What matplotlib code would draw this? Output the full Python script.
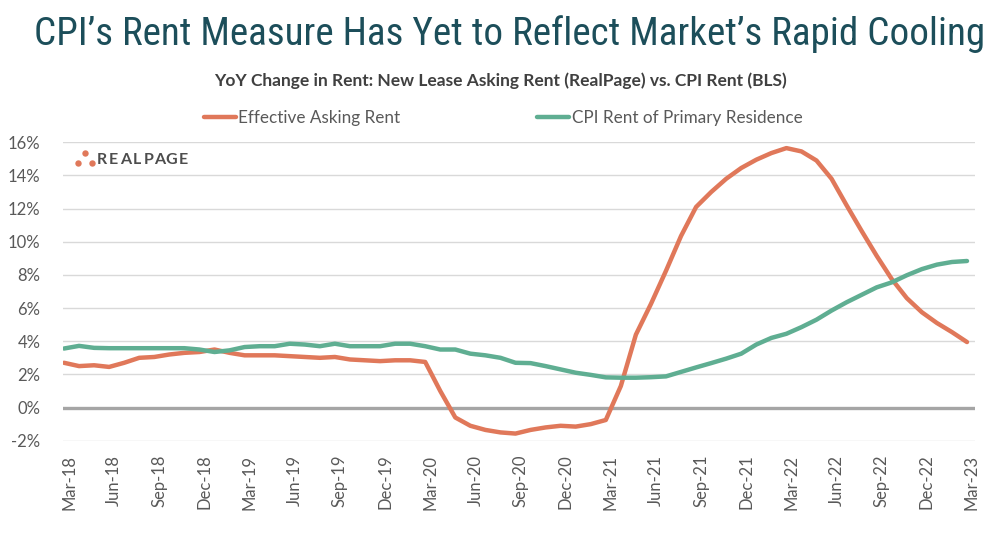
import matplotlib
matplotlib.use("Agg")
import matplotlib.pyplot as plt
from matplotlib import font_manager
from matplotlib.lines import Line2D
import matplotlib.transforms as mtransforms

# ---------------- data ----------------
months_index = list(range(61))  # Mar-18 ... Mar-23, monthly

tick_positions = list(range(0, 61, 3))
tick_labels = ["Mar-18", "Jun-18", "Sep-18", "Dec-18",
               "Mar-19", "Jun-19", "Sep-19", "Dec-19",
               "Mar-20", "Jun-20", "Sep-20", "Dec-20",
               "Mar-21", "Jun-21", "Sep-21", "Dec-21",
               "Mar-22", "Jun-22", "Sep-22", "Dec-22", "Mar-23"]

effective_asking_rent = [
    2.70, 2.50, 2.55, 2.45, 2.70, 3.00, 3.05, 3.20, 3.30, 3.35,
    3.50, 3.30, 3.15, 3.15, 3.15, 3.10, 3.05, 3.00, 3.05, 2.90,
    2.85, 2.80, 2.85, 2.85, 2.75, 1.00, -0.60, -1.10, -1.35, -1.50,
    -1.57, -1.35, -1.20, -1.10, -1.15, -1.00, -0.75, 1.30, 4.40, 6.25,
    8.25, 10.35, 12.10, 13.00, 13.80, 14.45, 14.95, 15.35, 15.65, 15.45,
    14.90, 13.80, 12.20, 10.65, 9.15, 7.75, 6.60, 5.75, 5.10, 4.55,
    3.95]

cpi_rent_primary = [
    3.56, 3.72, 3.60, 3.58, 3.58, 3.58, 3.58, 3.58, 3.58, 3.50,
    3.35, 3.45, 3.65, 3.70, 3.70, 3.85, 3.80, 3.70, 3.85, 3.70,
    3.70, 3.70, 3.85, 3.85, 3.70, 3.50, 3.50, 3.25, 3.15, 3.00,
    2.70, 2.68, 2.50, 2.30, 2.10, 1.97, 1.82, 1.80, 1.80, 1.83,
    1.88, 2.15, 2.42, 2.68, 2.95, 3.25, 3.80, 4.20, 4.45, 4.85,
    5.30, 5.85, 6.35, 6.80, 7.25, 7.55, 7.98, 8.35, 8.62, 8.78,
    8.84]

series_names = ["Effective Asking Rent", "CPI Rent of Primary Residence"]
y_ticks = list(range(-2, 17, 2))

# ---------------- style ----------------
W, H, DPI = 1005, 533, 100
ORANGE = "#E0785A"
GREEN = "#5FAE92"
TITLE_COLOR = "#1C4E5A"
TEXT_GRAY = "#595959"
GRID = "#D9D9D9"

avail = {f.name for f in font_manager.fontManager.ttflist}
def pick(*names):
    for n in names:
        if n in avail:
            return n
    return "DejaVu Sans"

BASE = pick("Lato", "Open Sans", "Noto Sans", "DejaVu Sans")
TITLE_FONT = pick("Liberation Sans Narrow", "Roboto Condensed", "Open Sans Condensed", "Lato")
plt.rcParams["font.family"] = [BASE, "DejaVu Sans"]

fig = plt.figure(figsize=(W / DPI, H / DPI), dpi=DPI)
fig.patch.set_facecolor("white")

def fx(px):
    return px / W

def fy(py):
    return 1 - py / H

# plot area in pixels
left_px, right_px, top_px, bot_px = 62.7, 975.0, 142.3, 440.7
ax = fig.add_axes([fx(left_px), fy(bot_px), fx(right_px - left_px), (bot_px - top_px) / H])

x0_px, step_px = 64.0, 15.05
ax.set_xlim((left_px - x0_px) / step_px, (right_px - x0_px) / step_px)
ax.set_ylim(-2, 16)

for v in y_ticks:
    if v == 0:
        ax.axhline(v, color="#A5A5A5", lw=2.4, zorder=1)
    else:
        ax.axhline(v, color=GRID, lw=1.0, zorder=1)

l1, = ax.plot(months_index, effective_asking_rent, color=ORANGE, lw=3.2,
              solid_joinstyle="round", solid_capstyle="round", zorder=3)
l2, = ax.plot(months_index, cpi_rent_primary, color=GREEN, lw=3.2,
              solid_joinstyle="round", solid_capstyle="round", zorder=3)

for s in ax.spines.values():
    s.set_visible(False)

ax.set_yticks(y_ticks)
ax.set_yticklabels([f"{v}%" for v in y_ticks], fontsize=12, color=TEXT_GRAY)
ax.set_xticks(tick_positions)
ax.set_xticklabels(tick_labels, rotation=90, fontsize=12, color=TEXT_GRAY,
                   ha="center", va="top")
ax.tick_params(axis="y", length=0, pad=16)
ax.tick_params(axis="x", length=0, pad=10)
offset = mtransforms.ScaledTranslation(5 / DPI, 0, fig.dpi_scale_trans)
for lab in ax.get_xticklabels():
    lab.set_transform(lab.get_transform() + offset)

# ---------------- titles ----------------
renderer = fig.canvas.get_renderer()

def fit_text(x, y, s, target_w, size, **kw):
    t = fig.text(x, y, s, fontsize=size, **kw)
    w = t.get_window_extent(renderer).width
    t.set_fontsize(size * target_w / w)
    return t

fit_text(fx(510), fy(45), "CPI\u2019s Rent Measure Has Yet to Reflect Market\u2019s Rapid Cooling",
         950, 28, ha="center", va="baseline", color=TITLE_COLOR,
         family=[TITLE_FONT, "DejaVu Sans"])
fit_text(fx(500), fy(86), "YoY Change in Rent: New Lease Asking Rent (RealPage) vs. CPI Rent (BLS)",
         570, 12, ha="center", va="baseline", color="#404040", fontweight="bold")

# ---------------- legend ----------------
fig.legend(handles=[l1, l2], labels=series_names, ncol=2, loc="center",
           bbox_to_anchor=(fx(503), fy(118)), frameon=False, fontsize=12.3,
           labelcolor=TEXT_GRAY, handlelength=1.9, handletextpad=0.12,
           columnspacing=8.0, borderpad=0)

# ---------------- RealPage logo ----------------
fig.add_artist(Line2D([fx(77.5), fx(84.5), fx(91.5)], [fy(162.5), fy(153.0), fy(162.5)],
                      transform=fig.transFigure, linestyle="none", marker="o",
                      markersize=4.6, color=ORANGE, markeredgewidth=0))
logo_letters = "REALPAGE"
for k, ch in enumerate(logo_letters):
    fig.text(fx(102 + 11.6 * k), fy(164.5), ch, fontsize=11.5, color="#4D4D4D",
             fontweight="bold", ha="center", va="baseline")

fig.savefig("out.png", dpi=DPI, facecolor="white")
